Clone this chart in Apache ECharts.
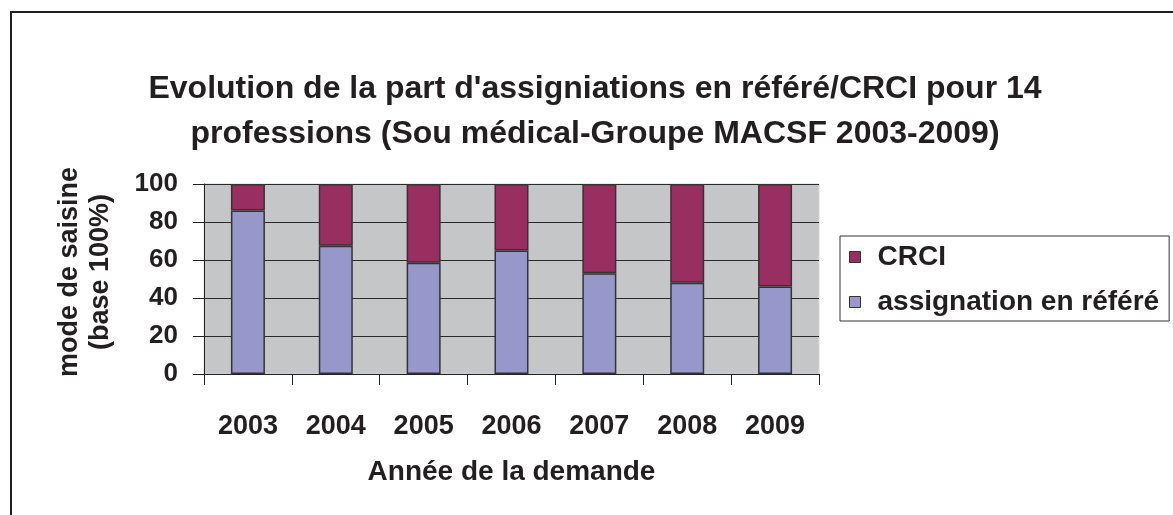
<!DOCTYPE html>
<html>
<head>
<meta charset="utf-8">
<script src="https://cdn.jsdelivr.net/npm/echarts@6/dist/echarts.min.js"></script>
<style>
  html, body { margin: 0; padding: 0; background: #fff; }
  #chart { width: 1173px; height: 515px; }
</style>
</head>
<body>
<div id="chart"></div>
<script>
const years = ['2003', '2004', '2005', '2006', '2007', '2008', '2009'];
const assignation = [86, 67.5, 58.5, 65, 53, 48, 46];
const crci = [14, 32.5, 41.5, 35, 47, 52, 54];
const yTicks = { min: 0, max: 100, interval: 20 };
const titleText = "Evolution de la part d'assigniations en référé/CRCI pour 14\nprofessions (Sou médical-Groupe MACSF 2003-2009)";

const FONT = '"Liberation Sans", Arial, sans-serif';
const INK = '#231f20';

const chart = echarts.init(document.getElementById('chart'));

chart.setOption({
    animation: false,
    backgroundColor: '#fff',
    textStyle: { fontFamily: FONT },
    graphic: [
        {
            // outer chart frame, runs off the right and bottom edges
            type: 'rect',
            shape: { x: 11, y: 12, width: 1200, height: 600 },
            style: { fill: 'none', stroke: INK, lineWidth: 2 },
            silent: true
        },
        {
            type: 'text',
            x: 595,
            y: 67,
            style: {
                text: titleText,
                textAlign: 'center',
                textVerticalAlign: 'top',
                fontFamily: FONT,
                fontSize: 32,
                fontWeight: 'bold',
                fill: INK,
                lineHeight: 45
            },
            silent: true
        }
    ],
    legend: {
        orient: 'vertical',
        left: 840,
        top: 236,
        data: ['CRCI', 'assignation en référé'],
        itemWidth: 11,
        itemHeight: 11,
        itemGap: 15,
        padding: [6, 10, 4, 9],
        borderColor: '#333',
        borderWidth: 1,
        icon: 'rect',
        itemStyle: { borderColor: '#333', borderWidth: 1 },
        textStyle: {
            fontFamily: FONT,
            fontSize: 28,
            fontWeight: 'bold',
            color: INK,
            lineHeight: 30,
            padding: [0, 0, 0, 12]
        }
    },
    grid: {
        left: 204,
        right: 354,
        top: 184,
        bottom: 141,
        show: true,
        backgroundColor: '#c5c6c8',
        borderColor: '#d6d6d6',
        borderWidth: 1
    },
    xAxis: {
        type: 'category',
        data: years,
        name: 'Année de la demande',
        nameLocation: 'middle',
        nameGap: 84,
        nameTextStyle: { fontFamily: FONT, fontSize: 28, fontWeight: 'bold', color: INK },
        axisLine: { show: true, lineStyle: { color: '#222', width: 1 } },
        axisTick: { show: true, length: 11, lineStyle: { color: '#222' } },
        axisLabel: { margin: 39, fontFamily: FONT, fontSize: 27, fontWeight: 'bold', color: INK },
        splitLine: { show: false }
    },
    yAxis: {
        type: 'value',
        min: yTicks.min,
        max: yTicks.max,
        interval: yTicks.interval,
        name: 'mode de saisine\n(base 100%)',
        nameLocation: 'middle',
        nameRotate: 90,
        nameGap: 88,
        nameTextStyle: {
            fontFamily: FONT, fontSize: 27, fontWeight: 'bold', color: INK,
            lineHeight: 31, padding: [0, 0, 0, 14]
        },
        axisLine: { show: true, lineStyle: { color: '#222', width: 1 } },
        axisTick: { show: true, length: 11, lineStyle: { color: '#222' } },
        axisLabel: { margin: 26, fontFamily: FONT, fontSize: 26, fontWeight: 'bold', color: INK },
        splitLine: { show: true, lineStyle: { color: '#2b2b2b', width: 1 } }
    },
    series: [
        {
            name: 'assignation en référé',
            type: 'bar',
            stack: 'total',
            barWidth: 34,
            data: assignation,
            itemStyle: { color: '#9797ca', borderColor: '#333', borderWidth: 1.5 }
        },
        {
            name: 'CRCI',
            type: 'bar',
            stack: 'total',
            barWidth: 34,
            data: crci,
            itemStyle: { color: '#992f61', borderColor: '#333', borderWidth: 1.5 }
        }
    ]
});
</script>
</body>
</html>
